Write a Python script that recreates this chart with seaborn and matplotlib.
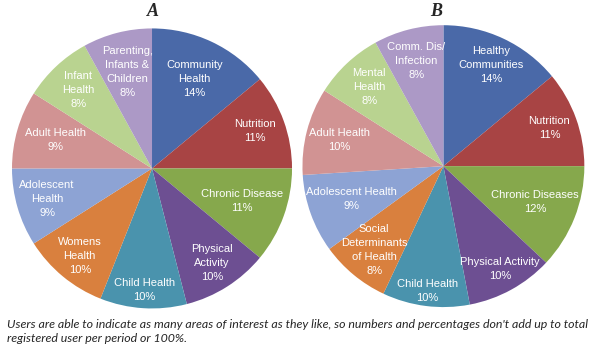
import numpy as np
import matplotlib
matplotlib.use('Agg')
import matplotlib.pyplot as plt
import seaborn as sns

# Chart A
labels_a = ['Community\nHealth', 'Nutrition', 'Chronic Disease', 'Physical\nActivity',
            'Child Health', 'Womens\nHealth', 'Adolescent\nHealth', 'Adult Health',
            'Infant\nHealth', 'Parenting,\nInfants &\nChildren']
values_a = [14, 11, 11, 10, 10, 10, 9, 9, 8, 8]

# Chart B
labels_b = ['Healthy\nCommunities', 'Nutrition', 'Chronic Diseases', 'Physical Activity',
            'Child Health', 'Social\nDeterminants\nof Health', 'Adolescent Health',
            'Adult Health', 'Mental\nHealth', 'Comm. Dis/\nInfection']
values_b = [14, 11, 12, 10, 10, 8, 9, 10, 8, 8]

caption = ("Users are able to indicate as many areas of interest as they like, so numbers and "
           "percentages don't add up to total\nregistered user per period or 100%.")

colors = ['#4a69a8', '#a84444', '#86a84c', '#6d4f92', '#4a93ad',
          '#d9803e', '#8da3d4', '#d19393', '#b9d390', '#ac99c6']

# radial position of the label inside each slice (fraction of radius)
dist_a = [0.71, 0.78, 0.68, 0.80, 0.87, 0.81, 0.78, 0.72, 0.77, 0.71]
dist_b = [0.79, 0.80, 0.70, 0.83, 0.89, 0.77, 0.69, 0.76, 0.77, 0.77]

sns.set_theme(style='white')
plt.rcParams['font.family'] = ['Liberation Sans', 'DejaVu Sans']

fig = plt.figure(figsize=(6, 3.55), dpi=100)
fig.patch.set_facecolor('white')

ax_a = fig.add_axes([0.02, 0.131, 0.4667, 0.789])
ax_b = fig.add_axes([0.504, 0.135, 0.47, 0.794])


def draw_pie(ax, labels, values, dists):
    wedges, _ = ax.pie(values, colors=colors, startangle=90, counterclock=False,
                       wedgeprops=dict(linewidth=0))
    for w, lab, v, d in zip(wedges, labels, values, dists):
        ang = np.deg2rad((w.theta1 + w.theta2) / 2)
        ax.text(d * np.cos(ang), d * np.sin(ang), f'{lab}\n{v}%',
                ha='center', va='center', color='white', fontsize=8,
                linespacing=1.5)
    ax.set_aspect('equal')
    ax.set_xlim(-1, 1)
    ax.set_ylim(-1, 1)
    ax.axis('off')


draw_pie(ax_a, labels_a, values_a, dist_a)
draw_pie(ax_b, labels_b, values_b, dist_b)

fig.text(153 / 600, 1 - 12 / 355, 'A', ha='center', va='center', fontsize=13,
         fontweight='bold', style='italic', family='Liberation Serif')
fig.text(436 / 600, 1 - 12 / 355, 'B', ha='center', va='center', fontsize=13,
         fontweight='bold', style='italic', family='Liberation Serif')

fig.text(7 / 600, 1 - 319 / 355, caption, ha='left', va='top', fontsize=8.95,
         style='italic', family='Lato', linespacing=1.3)

fig.savefig('out.png', dpi=100, facecolor='white')
plt.close()
